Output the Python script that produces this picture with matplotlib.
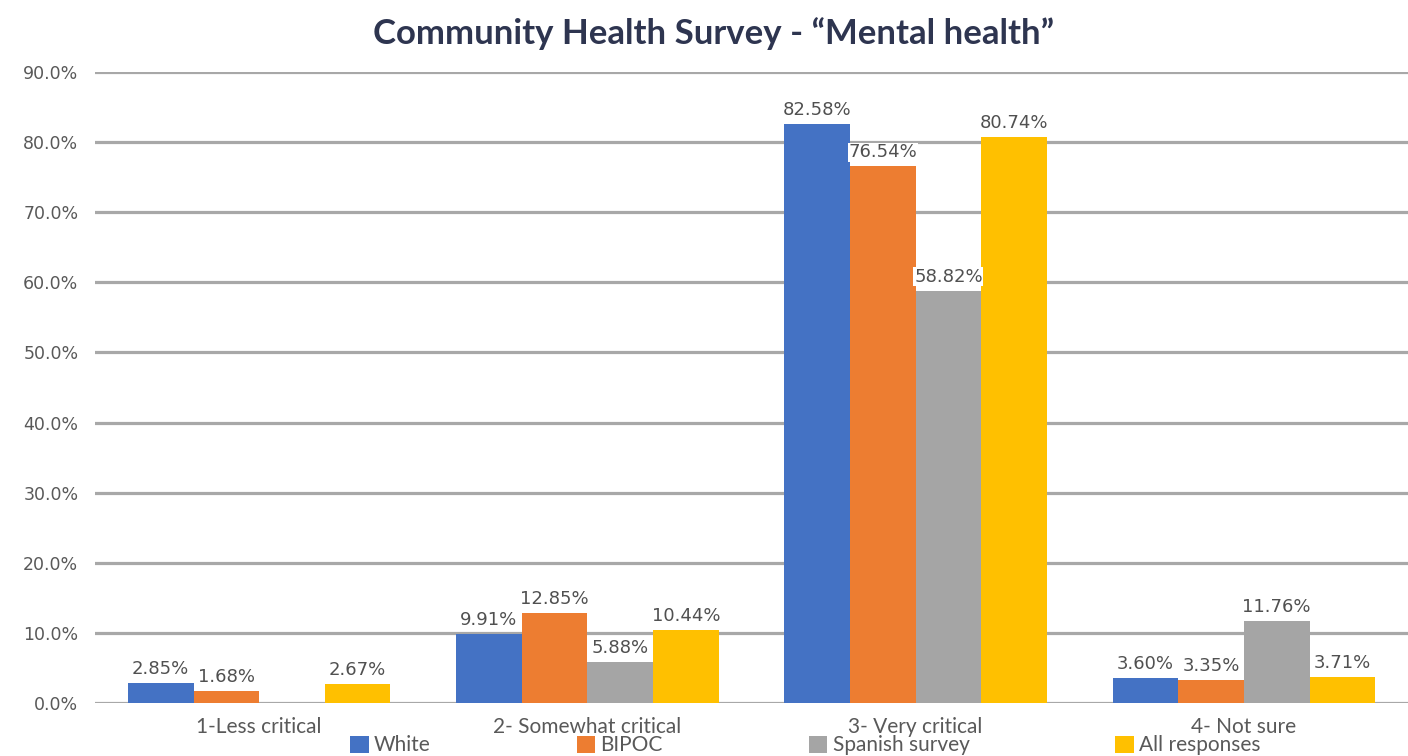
import numpy as np
import matplotlib.pyplot as plt
from matplotlib.ticker import FuncFormatter

# данные опроса
categories = ["1-Less critical", "2- Somewhat critical", "3- Very critical", "4- Not sure"]
series_names = ["White", "BIPOC", "Spanish survey", "All responses"]
white = [2.85, 9.91, 82.58, 3.60]
bipoc = [1.68, 12.85, 76.54, 3.35]
spanish = [0.0, 5.88, 58.82, 11.76]
all_resp = [2.67, 10.44, 80.74, 3.71]

colors = ["#4472C4", "#ED7D31", "#A5A5A5", "#FFC000"]
text_gray = "#595959"

plt.rcParams['font.family'] = ['Lato', 'DejaVu Sans']

fig = plt.figure(figsize=(14.08, 7.56), dpi=100)
ax = fig.add_axes([0.0675, 0.070, 0.9325, 0.835])

x = np.arange(len(categories))
width = 0.2
for i, (name, vals) in enumerate(zip(series_names, [white, bipoc, spanish, all_resp])):
    pos = x - 0.3 + i * width
    bars = ax.bar(pos, vals, width, color=colors[i], label=name, zorder=3)
    for b, v in zip(bars, vals):
        if v == 0:
            continue
        ax.text(b.get_x() + b.get_width() / 2, v + 0.7, f"{v:.2f}%",
                ha='center', va='bottom', fontsize=13, color="#505050",
                family=['DejaVu Sans'], zorder=4,
                bbox=dict(facecolor='white', edgecolor='none', pad=0.5))

ax.set_xlim(-0.5, 3.5)
ax.set_ylim(0, 90)
ax.set_yticks(np.arange(0, 91, 10))
ax.yaxis.set_major_formatter(FuncFormatter(lambda v, p: f"{v:.1f}%"))
ax.grid(axis='y', color="#A8A8A8", linewidth=2.3, zorder=0)
ax.tick_params(axis='y', length=0, labelsize=12.5, labelcolor=text_gray, pad=12)
for lbl in ax.get_yticklabels():
    lbl.set_family(['DejaVu Sans'])
ax.set_xticks(x)
ax.set_xticklabels(categories, fontsize=15, color=text_gray)
ax.tick_params(axis='x', length=0, pad=10)
for s in ax.spines.values():
    s.set_visible(False)

fig.suptitle("Community Health Survey - “Mental health”", x=0.507, y=0.978,
             fontsize=25, fontweight='bold', color="#2E3550")

fig.legend(loc='center', bbox_to_anchor=(0.572, 0.014), ncol=4, frameon=False,
           fontsize=15, labelcolor=text_gray, handlelength=0.9, handleheight=0.9,
           handletextpad=0.25, columnspacing=7.0, borderpad=0)

fig.savefig("out.png", dpi=100)
